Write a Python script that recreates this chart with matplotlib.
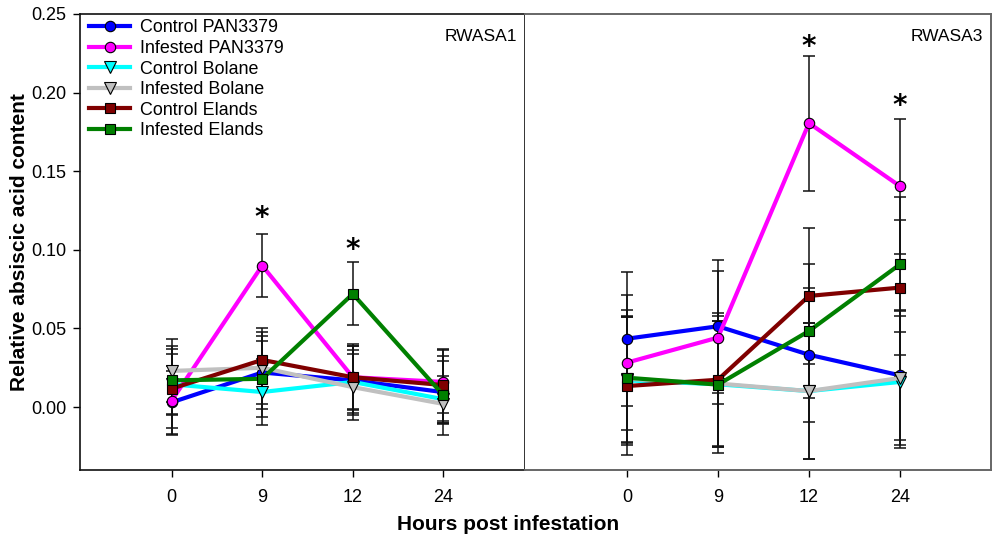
import numpy as np
import matplotlib
matplotlib.use("Agg")
import matplotlib.pyplot as plt

plt.rcParams['font.family'] = ['Liberation Sans', 'DejaVu Sans']

hours = ['0', '9', '12', '24']
series_names = ['Control PAN3379', 'Infested PAN3379', 'Control Bolane',
                'Infested Bolane', 'Control Elands', 'Infested Elands']
colors = ['#0000FF', '#FF00FF', '#00FFFF', '#C0C0C0', '#800000', '#008000']
markers = ['o', 'o', 'v', 'v', 's', 's']

# RWASA1 panel
rwasa1_ctrl_pan = [0.003, 0.022, 0.017, 0.0095]
rwasa1_inf_pan = [0.004, 0.090, 0.019, 0.016]
rwasa1_ctrl_bol = [0.0145, 0.0096, 0.016, 0.005]
rwasa1_inf_bol = [0.023, 0.025, 0.0127, 0.002]
rwasa1_ctrl_eln = [0.0117, 0.030, 0.019, 0.014]
rwasa1_inf_eln = [0.017, 0.018, 0.072, 0.0075]
rwasa1_err_ctrl_pan = [0.020, 0.023, 0.022, 0.020]
rwasa1_err_inf_pan = [0.022, 0.020, 0.020, 0.020]
rwasa1_err_ctrl_bol = [0.019, 0.021, 0.020, 0.015]
rwasa1_err_inf_bol = [0.020, 0.023, 0.021, 0.012]
rwasa1_err_ctrl_eln = [0.025, 0.020, 0.021, 0.023]
rwasa1_err_inf_eln = [0.022, 0.024, 0.020, 0.025]

# RWASA3 panel
rwasa3_ctrl_pan = [0.0435, 0.0514, 0.0333, 0.0202]
rwasa3_inf_pan = [0.0283, 0.0442, 0.1806, 0.1405]
rwasa3_ctrl_bol = [0.017, 0.0145, 0.0102, 0.016]
rwasa3_inf_bol = [0.018, 0.015, 0.0102, 0.0185]
rwasa3_ctrl_eln = [0.0134, 0.0174, 0.0707, 0.076]
rwasa3_inf_eln = [0.0187, 0.0143, 0.0484, 0.0908]
rwasa3_err_ctrl_pan = [0.0425, 0.0424, 0.0425, 0.0414]
rwasa3_err_inf_pan = [0.043, 0.0424, 0.043, 0.043]
rwasa3_err_ctrl_bol = [0.040, 0.040, 0.043, 0.042]
rwasa3_err_inf_bol = [0.040, 0.040, 0.043, 0.0425]
rwasa3_err_ctrl_eln = [0.0436, 0.0425, 0.043, 0.043]
rwasa3_err_inf_eln = [0.043, 0.0434, 0.0424, 0.043]

# significance stars: time index and height (data units, glyph centre)
rwasa1_star_idx = [1, 2]
rwasa1_star_y = [0.1233, 0.1030]
rwasa3_star_idx = [2, 3]
rwasa3_star_y = [0.2322, 0.1946]

panels = [
    dict(label='RWASA1',
         vals=[rwasa1_ctrl_pan, rwasa1_inf_pan, rwasa1_ctrl_bol,
               rwasa1_inf_bol, rwasa1_ctrl_eln, rwasa1_inf_eln],
         errs=[rwasa1_err_ctrl_pan, rwasa1_err_inf_pan, rwasa1_err_ctrl_bol,
               rwasa1_err_inf_bol, rwasa1_err_ctrl_eln, rwasa1_err_inf_eln],
         star_idx=rwasa1_star_idx, star_y=rwasa1_star_y),
    dict(label='RWASA3',
         vals=[rwasa3_ctrl_pan, rwasa3_inf_pan, rwasa3_ctrl_bol,
               rwasa3_inf_bol, rwasa3_ctrl_eln, rwasa3_inf_eln],
         errs=[rwasa3_err_ctrl_pan, rwasa3_err_inf_pan, rwasa3_err_ctrl_bol,
               rwasa3_err_inf_bol, rwasa3_err_ctrl_eln, rwasa3_err_inf_eln],
         star_idx=rwasa3_star_idx, star_y=rwasa3_star_y),
]

W, H = 992, 540
fig = plt.figure(figsize=(W / 100, H / 100), dpi=100)
ax1 = fig.add_axes([80 / W, (H - 470) / H, 445 / W, 456 / H])
ax2 = fig.add_axes([525 / W, (H - 470) / H, 466 / W, 456 / H])

x = np.arange(len(hours))
for ax, p, xl in [(ax1, panels[0], (-1.01, 3.9)), (ax2, panels[1], (-1.12, 4.0))]:
    for i, (v, e) in enumerate(zip(p['vals'], p['errs'])):
        ax.errorbar(x, v, yerr=e, fmt='none', ecolor='#111111', elinewidth=1.1,
                    capsize=4.4, capthick=1.1, zorder=2)
    for i, v in enumerate(p['vals']):
        ax.plot(x, v, color=colors[i], lw=3.0, marker=markers[i],
                markersize=7.5 if markers[i] != 'v' else 8,
                markerfacecolor=colors[i], markeredgecolor='black',
                markeredgewidth=0.8, label=series_names[i], zorder=3 + i * 0.1)
    for ti, sy in zip(p['star_idx'], p['star_y']):
        ax.text(x[ti], sy - 0.0121, '*', ha='center', va='bottom',
                fontsize=20, fontweight='bold', family='DejaVu Sans')
    ax.text(0.982, 0.968, p['label'], transform=ax.transAxes, ha='right',
            va='top', fontsize=12.5)
    ax.set_xlim(*xl)
    ax.set_ylim(-0.04, 0.25)
    ax.set_xticks(x)
    ax.set_xticklabels(hours, fontsize=13)
    ax.tick_params(axis='x', direction='out', length=5, width=1, pad=9)

ax1.set_yticks(np.arange(0, 0.2501, 0.05))
ax1.set_yticklabels(['%.2f' % t for t in np.arange(0, 0.2501, 0.05)], fontsize=13)
ax1.tick_params(axis='y', direction='out', length=5, width=1, pad=5)
ax2.set_yticks([])
ax2.spines['left'].set_visible(False)
for s in ['top', 'bottom', 'left', 'right']:
    ax1.spines[s].set_color('#111111')
    ax1.spines[s].set_linewidth(1.2)
for s in ['top', 'bottom', 'right']:
    ax2.spines[s].set_color('#666666')
    ax2.spines[s].set_linewidth(1.4)

ax1.legend(loc='upper left', bbox_to_anchor=(0.009, 1.0), frameon=False,
           fontsize=12.9, handlelength=2.25, handletextpad=0.6,
           labelspacing=0.2, borderpad=0.1, borderaxespad=0.2)

ax1.set_ylabel('Relative absiscic acid content', fontsize=15, fontweight='bold',
               labelpad=1.5)
fig.text(508 / W, 1 - 524 / H, 'Hours post infestation', ha='center',
         va='center', fontsize=15, fontweight='bold')

fig.savefig('out.png', dpi=100)
